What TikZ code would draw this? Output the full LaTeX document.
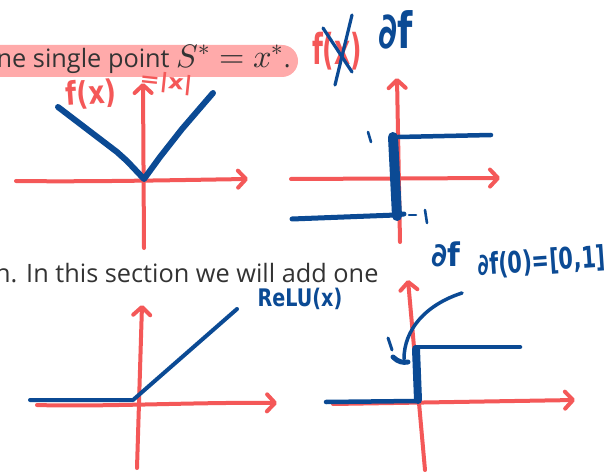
\documentclass[tikz,border=0pt]{standalone}
\usepackage{fontspec}
\usepackage{unicode-math}
\setmathfont{Latin Modern Math}
\usepackage{graphicx}
\usetikzlibrary{arrows.meta}
\newfontfamily\bodyfont{Open Sans}
\newfontfamily\handfont{DejaVu Sans}
\definecolor{myred}{HTML}{F45858}
\definecolor{myblue}{HTML}{0B4A94}
\definecolor{hlpink}{HTML}{FFAAAA}
\definecolor{textgray}{HTML}{333333}
\tikzset{
  axis/.style={draw=myred, line width=4pt, line cap=round, line join=round,
    -{Straight Barb[length=8pt,width=17pt,round]}},
  curve/.style={draw=myblue, line width=5pt, line cap=round, line join=round},
  thin curve/.style={draw=myblue, line width=4pt, line cap=round, line join=round},
  bar/.style={draw=myblue, line width=9pt, line cap=round},
  tick/.style={draw=myblue, line width=2.6pt, line cap=round},
  body/.style={inner sep=0pt, text=textgray, font=\bodyfont\fontsize{25.3}{30}\selectfont},
  redlab/.style={inner sep=0pt, text=myred, font=\handfont\bfseries\fontsize{22}{24}\selectfont},
  bluelab/.style={inner sep=0pt, text=myblue, font=\handfont\bfseries\fontsize{20}{24}\selectfont},
}
\newcommand{\bigmath}[1]{{\fontsize{32.5}{33}\selectfont$#1$}}
\begin{document}
\begin{tikzpicture}[x=1pt,y=-1pt]
\useasboundingbox (0,0) rectangle (610,473);
\clip (0,0) rectangle (610,473);
\fill[white] (0,0) rectangle (610,473);

% highlighted sentence
\fill[hlpink, rounded corners=16pt] (-30,45) rectangle (298,77);
\node[body, anchor=base west] (t1) at (-3.5,67.5) {ne single point \bigmath{S^*=x^*}.};
\node[body, anchor=base west] (t2) at (-5,282) {n. In this section we will add one};

% ---------- graph 1 : |x| ----------
\coordinate (g1l) at (16,181);
\coordinate (g1r) at (248,179);
\coordinate (g1b) at (144,248);
\coordinate (g1t) at (143,83);
\draw[axis] (g1l) .. controls (90,182) and (180,180) .. (g1r);
\draw[axis] (g1b) -- (g1t);
\coordinate (v0) at (144,179);
\draw[curve, line width=6pt] (58,107) -- (117,152) -- (127,161) -- (v0) -- (160,157) -- (182,129) -- (213,93);
\node[redlab, rotate=4, font=\handfont\bfseries\fontsize{28}{30}\selectfont] (fx1) at (91,94) {\scalebox{0.9}[1.15]{f(x)}};
\node[redlab, rotate=-6, font=\handfont\bfseries\fontsize{24}{26}\selectfont] (absx) at (166,83) {\scalebox{1}[0.85]{=|x|}};

% crossed f(x) and partial f
\node[redlab, font=\handfont\bfseries\fontsize{25}{27}\selectfont] (fx2) at (337,51) {\scalebox{1}[1.7]{f(x)}};
\draw[tick, line width=3.2pt] (352,15) -- (335,85);
\draw[tick, line width=3.2pt] (323,28) -- (352,72);
\node[bluelab, font=\handfont\bfseries\fontsize{37}{39}\selectfont] (df1) at (396,30) {\scalebox{0.95}[1.35]{∂f}};

% ---------- graph 2 : subgradient of |x| ----------
\coordinate (g2l) at (291,179);
\coordinate (g2r) at (500,178);
\coordinate (g2b) at (400,242);
\coordinate (g2t) at (397,78);
\draw[axis] (g2l) -- (g2r);
\draw[axis] (g2b) -- (g2t);
\draw[curve, line width=4.5pt] (398,137) -- (491,135);
\draw[bar, line width=10pt] (393,137) -- (397,216);
\draw[curve] (292,219) -- (396,215) -- (404,214);
\draw[tick] (409,215) -- (416,215);
\draw[tick] (425,210) -- (427,223);
\draw[tick] (368,132) -- (371,142);

% ---------- graph 3 : ReLU ----------
\coordinate (g3l) at (37,405);
\coordinate (g3r) at (277,403);
\coordinate (g3b) at (137,468);
\coordinate (g3t) at (142,305);
\draw[axis] (g3l) .. controls (100,407) and (200,402) .. (g3r);
\draw[axis] (g3b) -- (g3t);
\draw[thin curve] (30,400) -- (133,400) -- (237,309);
\node[bluelab, font=\handfont\bfseries\fontsize{22}{24}\selectfont] (relu) at (300,299) {\scalebox{0.87}[1.1]{ReLU(x)}};

% ---------- graph 4 : subgradient of ReLU ----------
\coordinate (g4l) at (333,404);
\coordinate (g4r) at (575,400);
\coordinate (g4b) at (425,470);
\coordinate (g4t) at (408,280);
\draw[axis] (g4l) -- (g4r);
\draw[axis] (g4b) -- (g4t);
\draw[thin curve, line width=4.5pt] (326,402) -- (416,401);
\draw[bar, line width=8pt] (416,349) -- (418,400);
\draw[thin curve, line width=4.5pt] (416,347) -- (520,347);
\node[bluelab, font=\handfont\bfseries\fontsize{31}{33}\selectfont] (df2) at (446,254) {\scalebox{0.95}[1.05]{∂f}};
\node[bluelab, rotate=4, font=\handfont\bfseries\fontsize{22}{24}\selectfont] (df0) at (542,262) {\scalebox{0.95}[1.35]{∂f(0)=[0,1]}};
\coordinate (arrs) at (462,293);
\coordinate (arre) at (404,359);
\draw[thin curve, line width=3.5pt] (arrs) .. controls (425,305) and (404,330) .. (arre);
\draw[tick, line width=3pt] (388,338) -- (392,350);
\draw[curve, line width=5pt] (393,357) .. controls (398,362) and (403,363) .. (408,362);
\end{tikzpicture}
\end{document}
